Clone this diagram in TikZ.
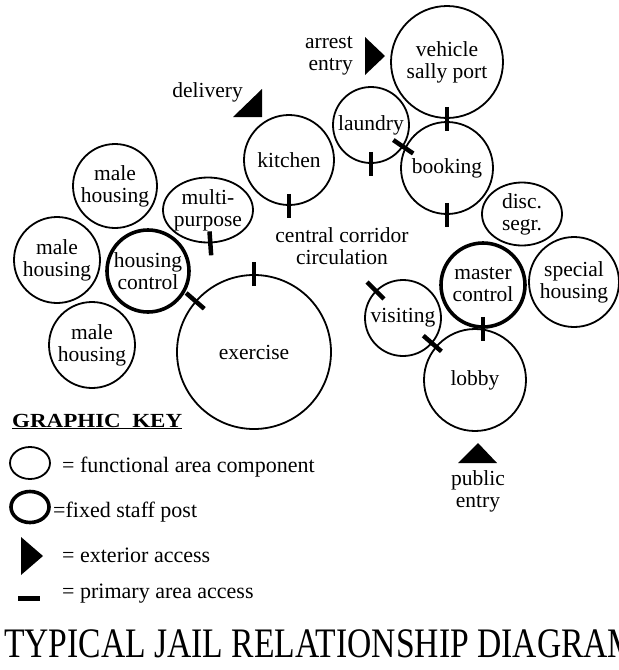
\documentclass[tikz,border=0pt]{standalone}
\usepackage{fontspec}
\setmainfont{Liberation Serif}
\usepackage{tikz}
\usetikzlibrary{shapes.geometric, calc, positioning}

\tikzset{
  area/.style={circle, draw, line width=1.8pt, inner sep=0pt, align=center,
    font=\fontsize{21.5}{22}\selectfont},
  post/.style={area, line width=3.6pt},
  oval/.style={area, ellipse},
  acc/.style={line width=4.5pt},
  lbl/.style={inner sep=0pt, align=center, font=\fontsize{21.5}{22}\selectfont},
  keytext/.style={lbl, anchor=base west, font=\fontsize{22}{22}\selectfont},
}
% primary area access mark across a circle edge
\newcommand{\areaacc}[2]{\draw[acc] ($(#1.#2)!12pt!(#1.center)$) -- ($(#1.#2)!-12pt!(#1.center)$);}

\begin{document}
\begin{tikzpicture}[x=1pt, y=-1pt]
    \useasboundingbox (0,0) rectangle (619,670);

        % Areas
        \node[area, minimum size=112] (sally) at (447,62) {vehicle\\sally port};
        \node[area, minimum size=76] (laundry) at (371,125) {laundry};
        \node[area, minimum size=92] (booking) at (447,168) {booking};
        \node[area, minimum size=90] (kitchen) at (289,160) {kitchen};
        \node[area, minimum size=84] (maleA) at (115,186) {male\\housing};
        \node[oval, minimum width=90, minimum height=65,
              label={[lbl]center:multi-\\purpose}] (multi) at (208,210) {};
        \node[area, minimum size=86] (maleB) at (57,260) {male\\housing};
        \node[post, minimum size=82] (hcontrol) at (148,271) {housing\\control};
        \node[area, minimum size=86] (maleC) at (92,345) {male\\housing};
        \node[area, minimum size=154] (exercise) at (254,352) {exercise};
        \node[oval, minimum width=80, minimum height=63] (disc) at (522,214) {disc.\\segr.};
        \node[post, minimum size=84] (mcontrol) at (483,285) {master\\control};
        \node[area, minimum size=90] (special) at (574,282) {special\\housing};
        \node[area, minimum size=76] (visiting) at (403,318) {visiting};
        \node[area, minimum size=102] (lobby) at (475,380) {lobby};

        % Access marks
        \areaacc{sally}{270}
        \areaacc{laundry}{-34}
        \areaacc{laundry}{270}
        \areaacc{booking}{270}
        \areaacc{kitchen}{270}
        \areaacc{multi}{274}
        \areaacc{exercise}{90}
        \areaacc{exercise}{139}
        \areaacc{visiting}{135}
        \areaacc{visiting}{-41}
        \areaacc{mcontrol}{270}

        % Exterior access
        \fill (365,37) -- (385,56) -- (365,75) -- cycle;
        \fill (262,89) -- (262,117) -- (233,117) -- cycle;
        \fill (458,463) -- (497,463) -- (478,443) -- cycle;
        \node[lbl, align=right, anchor=east] (arrest) at (353,56) {arrest\\entry};
        \node[lbl, anchor=east] (delivery) at (243,92) {delivery};
        \node[lbl] (public) at (478,491) {public\\entry};
        \node[lbl] (corridor) at (342,246) {central corridor\\circulation};

        % Graphic key
        \node[anchor=base west, inner sep=0pt, font=\fontsize{20}{22}\selectfont\bfseries]
            (key) at (12,427) {\underline{\scalebox{1.15}[1]{GRAPHIC\ \ KEY}}};
        \node[oval, minimum width=40, minimum height=32] (keyarea) at (30,463) {};
        \node[oval, line width=3.6pt, minimum width=38, minimum height=31] (keypost) at (30,507) {};
        \fill (21,537) -- (43,556) -- (21,575) -- cycle;
        \draw[line width=5pt] (18,598) -- (40,598);
        \node[keytext] (k1) at (62,472) {= functional area component};
        \node[keytext] (k2) at (53,517) {=fixed staff post};
        \node[keytext] (k3) at (62,562) {= exterior access};
        \node[keytext] (k4) at (62,598) {= primary area access};

        % Title
        \node[anchor=base west, inner sep=0pt, font=\fontsize{42}{42}\selectfont]
            (title) at (4,657) {\scalebox{0.8}[1]{TYPICAL JAIL RELATIONSHIP DIAGRAM}};
    \end{tikzpicture}
\end{document}
